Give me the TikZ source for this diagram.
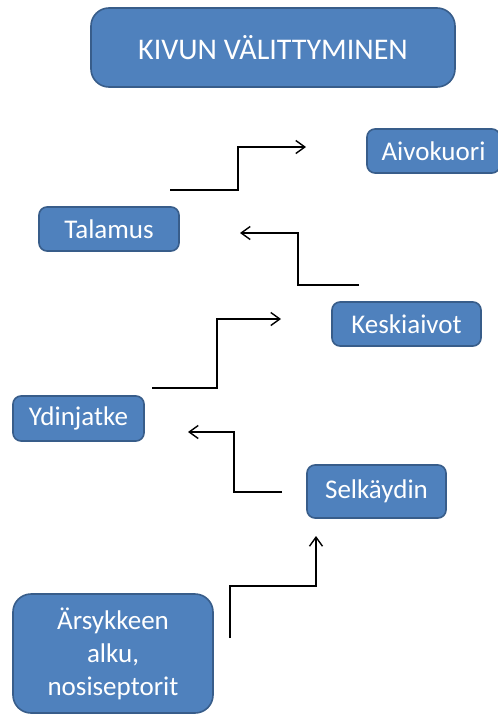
\documentclass[tikz,border=0pt]{standalone}
\usepackage{fontspec}
\setmainfont{Carlito}
\usetikzlibrary{arrows.meta,positioning}
\definecolor{boxblue}{HTML}{4F81BD}
\definecolor{boxborder}{HTML}{385D8A}

\begin{document}
\begin{tikzpicture}[
  x=1pt, y=-1pt,
  font=\fontsize{27}{33}\selectfont,
  part/.style={rectangle, rounded corners=8pt, draw=boxborder, fill=boxblue, line width=1.6pt, align=center, text=white, minimum height=44pt, inner sep=0pt},
  bigpart/.style={part, rounded corners=18pt},
  arrow/.style={-{Straight Barb[length=9pt, width=13pt]}, line width=1.4pt, draw=black}
]
\useasboundingbox (0,0) rectangle (498,715);

\node[bigpart, minimum width=364pt, minimum height=79pt, font=\fontsize{30}{36}\selectfont] (title) at (273,47.5) {KIVUN VÄLITTYMINEN};

\node[part, minimum width=133pt] (aivokuori) at (433.5,151) {Aivokuori};
\node[part, minimum width=140pt] (talamus) at (109,229) {Talamus};
\node[part, minimum width=149pt] (keskiaivot) at (406.5,324) {Keskiaivot};
\node[part, minimum width=131pt, minimum height=45pt] (ydinjatke) at (78.5,418.5) {Ydinjatke};
\node[part, minimum width=139pt, minimum height=53pt] (selkaydin) at (376.5,491.5) {Selkäydin};
\node[bigpart, minimum width=200pt, minimum height=119pt] (arsyke) at (113,653.5) {Ärsykkeen\\alku,\\nosiseptorit};

% loose arrow ends
\coordinate (talamus out) at (170,190);
\coordinate (aivokuori in) at (306,147);
\coordinate (keskiaivot out) at (359,285);
\coordinate (talamus in) at (240,233);
\coordinate (ydinjatke out) at (152,388);
\coordinate (keskiaivot in) at (281,319);
\coordinate (selkaydin out) at (282,492);
\coordinate (ydinjatke in) at (188,432);
\coordinate (arsyke out) at (230,638);
\coordinate (selkaydin in) at (316,536);

\draw[arrow] (talamus out) -- ++(68,0) |- (aivokuori in);
\draw[arrow] (keskiaivot out) -- ++(-61,0) |- (talamus in);
\draw[arrow] (ydinjatke out) -- ++(65,0) |- (keskiaivot in);
\draw[arrow] (selkaydin out) -- ++(-48,0) |- (ydinjatke in);
\draw[arrow] (arsyke out) -- ++(0,-52) -| (selkaydin in);

\end{tikzpicture}
\end{document}
